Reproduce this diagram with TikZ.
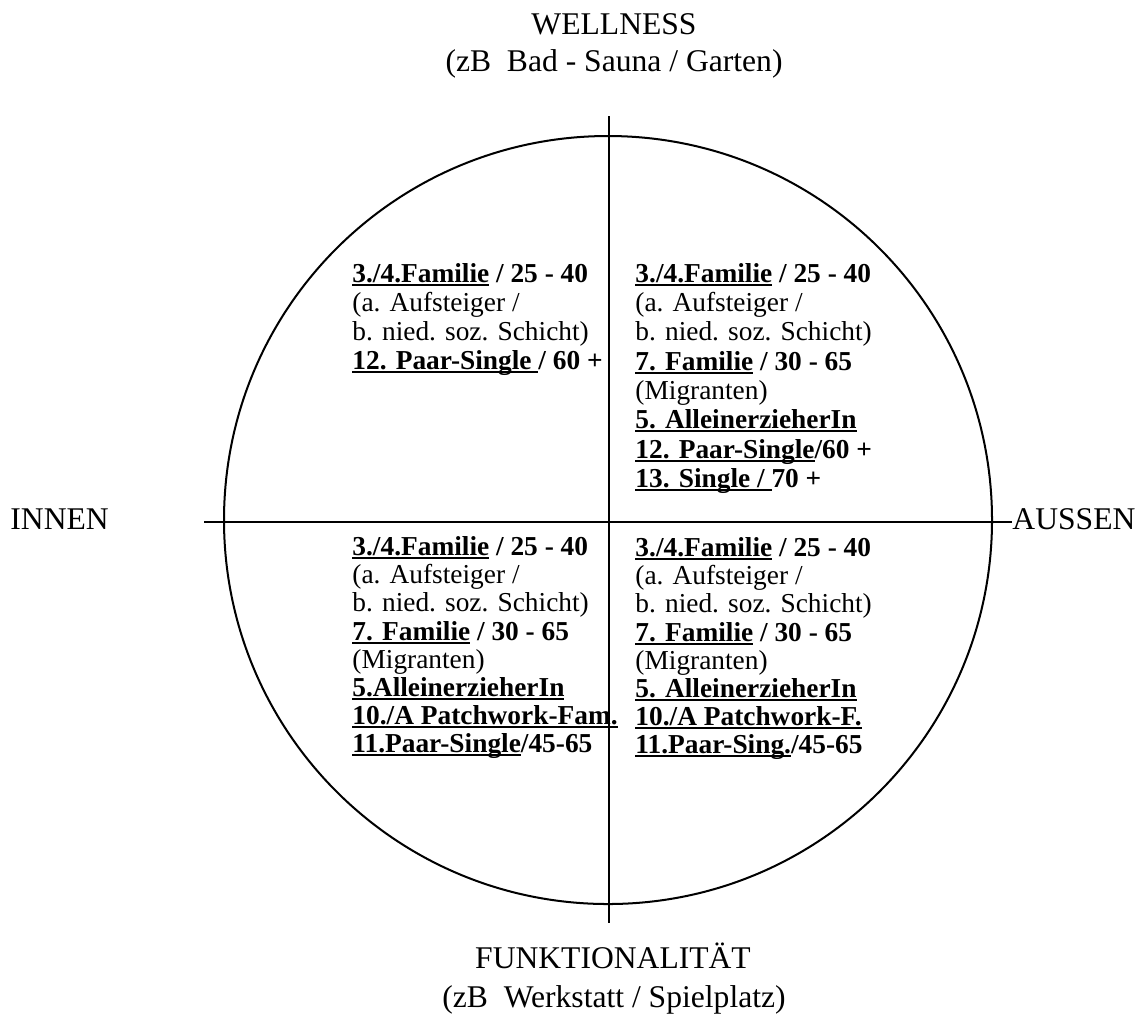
\documentclass[tikz,border=0pt]{standalone}
\usepackage{fontspec}
\setmainfont{Liberation Serif}
% underline at a fixed depth below the baseline
\newcommand\ulx[1]{\setbox0\hbox{#1}\rlap{\rule[-1.8pt]{\wd0}{0.95pt}}\box0\relax}
\begin{document}
\begin{tikzpicture}[x=0.424pt,y=-0.424pt,
  axis/.style={line width=0.85pt},
  hdr/.style={inner sep=0pt,font=\fontsize{13.4}{14}\selectfont},
  entry/.style={inner sep=0pt,anchor=base west,font=\fontsize{11.6}{13}\selectfont},
  bentry/.style={entry,font=\fontsize{11.6}{13}\selectfont\bfseries}]
\useasboundingbox (0,0) rectangle (1138,1031);

% circle and the two axes
\draw[axis] (608,520) circle[radius=384];
\coordinate (top) at (608.5,116);
\coordinate (bottom) at (608.5,923);
\coordinate (left) at (204,522);
\coordinate (right) at (1012,522);
\draw[axis] (top) -- (bottom);
\draw[axis] (left) -- (right);

% axis labels
\node[hdr,anchor=base] (wellness) at (614,34) {WELLNESS};
\node[hdr,anchor=base] (wellnessEx) at (614,71) {(zB\ \ Bad - Sauna / Garten)};
\node[hdr,anchor=base] (funktion) at (613,968) {FUNKTIONALITÄT};
\node[hdr,anchor=base] (funktionEx) at (614,1007) {(zB\ \ Werkstatt / Spielplatz)};
\node[hdr,anchor=base west] (innen) at (10,529) {INNEN};
\node[hdr,anchor=base west] (aussen) at (1012,529) {AUSSEN};

% upper left quadrant
\node[bentry] (ul1) at (352,282) {\ulx{3./4.Familie} / 25 - 40};
\node[entry]  (ul2) at (352,311) {(a. Aufsteiger /};
\node[entry]  (ul3) at (352,340) {b. nied. soz. Schicht)};
\node[bentry] (ul4) at (352,369) {\ulx{12. Paar-Single }/ 60 +};

% upper right quadrant
\node[bentry] (ur1) at (635,282) {\ulx{3./4.Familie} / 25 - 40};
\node[entry]  (ur2) at (635,311) {(a. Aufsteiger /};
\node[entry]  (ur3) at (635,340) {b. nied. soz. Schicht)};
\node[bentry] (ur4) at (635,370) {\ulx{7. Familie} / 30 - 65};
\node[entry]  (ur5) at (635,399) {(Migranten)};
\node[bentry] (ur6) at (635,428) {\ulx{5. AlleinerzieherIn}};
\node[bentry] (ur7) at (635,458) {\ulx{12. Paar-Single}/60 +};
\node[bentry] (ur8) at (635,487) {\ulx{13. Single / }70 +};

% lower left quadrant
\node[bentry] (ll1) at (352,555) {\ulx{3./4.Familie} / 25 - 40};
\node[entry]  (ll2) at (352,583) {(a. Aufsteiger /};
\node[entry]  (ll3) at (352,611) {b. nied. soz. Schicht)};
\node[bentry] (ll4) at (352,640) {\ulx{7. Familie} / 30 - 65};
\node[entry]  (ll5) at (352,668) {(Migranten)};
\node[bentry] (ll6) at (352,696) {\ulx{5.AlleinerzieherIn}};
\node[bentry] (ll7) at (352,724) {\ulx{10./A Patchwork-Fam.}};
\node[bentry] (ll8) at (352,752) {\ulx{11.Paar-Single}/45-65};

% lower right quadrant
\node[bentry] (lr1) at (635,556) {\ulx{3./4.Familie} / 25 - 40};
\node[entry]  (lr2) at (635,584) {(a. Aufsteiger /};
\node[entry]  (lr3) at (635,612) {b. nied. soz. Schicht)};
\node[bentry] (lr4) at (635,641) {\ulx{7. Familie} / 30 - 65};
\node[entry]  (lr5) at (635,669) {(Migranten)};
\node[bentry] (lr6) at (635,697) {\ulx{5. AlleinerzieherIn}};
\node[bentry] (lr7) at (635,725) {\ulx{10./A Patchwork-F.}};
\node[bentry] (lr8) at (635,753) {\ulx{11.Paar-Sing.}/45-65};
\end{tikzpicture}
\end{document}
